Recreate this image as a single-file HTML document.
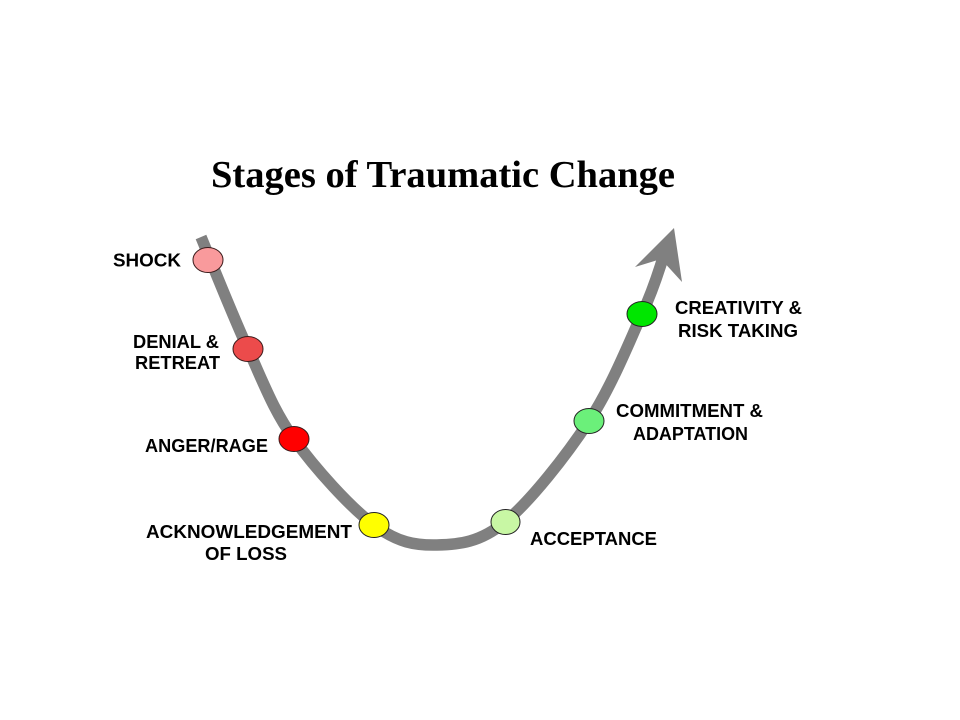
<!DOCTYPE html>
<html>
<head>
<meta charset="utf-8">
<style>
  html, body { margin: 0; padding: 0; background: #ffffff; }
  svg { display: block; }
  .lbl { font-family: "Liberation Sans", Arial, sans-serif; font-weight: bold; font-size: 18px; fill: #000; }
  .ttl { font-family: "Liberation Serif", "Times New Roman", serif; font-weight: bold; font-size: 38px; fill: #000; }
</style>
</head>
<body>
<svg width="960" height="720" viewBox="0 0 960 720" xmlns="http://www.w3.org/2000/svg">
  <rect x="0" y="0" width="960" height="720" fill="#ffffff"/>

  <text class="ttl" x="211" y="187" textLength="464" lengthAdjust="spacingAndGlyphs">Stages of Traumatic Change</text>

  <!-- curve -->
  <path d="M201,237
           C208.8,255.7 232.5,315.3 248,349
           C263.5,382.7 273,409.7 294,439
           C315,468.3 350.2,507.3 374,525
           C397.8,542.7 415.2,545.5 437,545
           C458.8,544.5 479.7,542.7 505,522
           C530.3,501.3 566.2,455.7 589,421
           C611.8,386.3 629.8,340.5 642,314
           C654.2,287.5 658.7,270.7 663,258"
        fill="none" stroke="#808080" stroke-width="11.5" stroke-linecap="butt"/>
  <!-- arrowhead -->
  <polygon points="674,228 635,267 661,259 682,282" fill="#808080"/>

  <!-- nodes -->
  <ellipse cx="208" cy="260" rx="15" ry="12.5" fill="#F99A9C" stroke="#3a1a1a" stroke-width="1"/>
  <ellipse cx="248" cy="349" rx="15" ry="12.5" fill="#EC4B4B" stroke="#3a1a1a" stroke-width="1"/>
  <ellipse cx="294" cy="439" rx="15" ry="12.5" fill="#FF0000" stroke="#3a1a1a" stroke-width="1"/>
  <ellipse cx="374" cy="525" rx="15" ry="12.5" fill="#FFFF00" stroke="#222" stroke-width="1"/>
  <ellipse cx="505.5" cy="522" rx="14.5" ry="12.5" fill="#C8F7A4" stroke="#222" stroke-width="1"/>
  <ellipse cx="589" cy="421" rx="15" ry="12.5" fill="#6BF07A" stroke="#222" stroke-width="1"/>
  <ellipse cx="642" cy="314" rx="15" ry="12.5" fill="#00E600" stroke="#222" stroke-width="1"/>

  <!-- labels -->
  <text class="lbl" x="113" y="266.5" textLength="68" lengthAdjust="spacingAndGlyphs">SHOCK</text>
  <text class="lbl" x="133" y="348" textLength="86" lengthAdjust="spacingAndGlyphs">DENIAL &amp;</text>
  <text class="lbl" x="135" y="369" textLength="85" lengthAdjust="spacingAndGlyphs">RETREAT</text>
  <text class="lbl" x="145" y="452" textLength="123" lengthAdjust="spacingAndGlyphs">ANGER/RAGE</text>
  <text class="lbl" x="146" y="538" textLength="206" lengthAdjust="spacingAndGlyphs">ACKNOWLEDGEMENT</text>
  <text class="lbl" x="205" y="560" textLength="82" lengthAdjust="spacingAndGlyphs">OF LOSS</text>
  <text class="lbl" x="530" y="545" textLength="127" lengthAdjust="spacingAndGlyphs">ACCEPTANCE</text>
  <text class="lbl" x="616" y="417" textLength="147" lengthAdjust="spacingAndGlyphs">COMMITMENT &amp;</text>
  <text class="lbl" x="633" y="440" textLength="115" lengthAdjust="spacingAndGlyphs">ADAPTATION</text>
  <text class="lbl" x="675" y="314" textLength="127" lengthAdjust="spacingAndGlyphs">CREATIVITY &amp;</text>
  <text class="lbl" x="678" y="337" textLength="120" lengthAdjust="spacingAndGlyphs">RISK TAKING</text>
</svg>
</body>
</html>
